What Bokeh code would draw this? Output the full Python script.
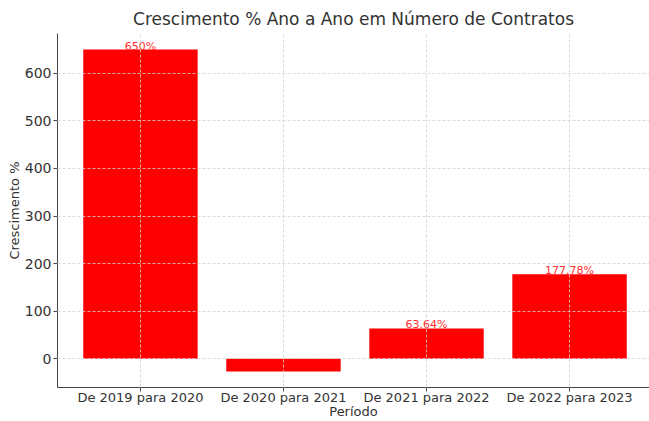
from bokeh.plotting import figure
from bokeh.models import ColumnDataSource, FixedTicker, Range1d
from bokeh.embed import file_html
from bokeh.resources import INLINE

periods = ["De 2019 para 2020", "De 2020 para 2021", "De 2021 para 2022", "De 2022 para 2023"]
growth = [650.0, -26.67, 63.64, 177.78]
label_idx = [0, 2, 3]
label_vals = [650.0, 63.64, 177.78]
label_txt = ["650%", "63.64%", "177.78%"]
y_ticks = [0, 100, 200, 300, 400, 500, 600]

xs = list(range(len(periods)))
src = ColumnDataSource(dict(x=xs, top=growth))

FONT = "DejaVu Sans"
TXT = "#333333"

p = figure(width=649, height=421, output_backend="svg", toolbar_location=None,
           x_range=Range1d(-0.58, 3.559), y_range=Range1d(-60.5, 683.8),
           title="Crescimento % Ano a Ano em Número de Contratos")
p.min_border_left = 57
p.min_border_right = 0
p.min_border_top = 33
p.min_border_bottom = 0
p.outline_line_color = None

p.vbar(x="x", top="top", bottom=0, width=0.8, source=src, fill_color="#ff0000", line_color=None)
lab_src = ColumnDataSource(dict(x=label_idx, y=label_vals, t=label_txt))
p.text(x="x", y="y", text="t", source=lab_src, text_align="center", text_baseline="bottom",
       text_color="#ff3030", text_font_size="11px", text_font={"value": FONT}, y_offset=3)

p.title.text_font = FONT
p.title.text_font_size = "17px"
p.title.text_font_style = "normal"
p.title.text_color = TXT
p.title.align = "center"

for ax in (p.xaxis[0], p.yaxis[0]):
    ax.major_label_text_font = FONT
    ax.major_label_text_font_size = "13px"
    ax.major_label_text_color = TXT
    ax.axis_label_text_font = FONT
    ax.axis_label_text_font_size = "13px"
    ax.axis_label_text_font_style = "normal"
    ax.axis_label_text_color = TXT
    ax.axis_line_color = "#444444"
    ax.major_tick_line_color = "#444444"
    ax.major_tick_out = 4
    ax.major_tick_in = 0
    ax.minor_tick_line_color = None

p.xaxis.major_label_standoff = -2
p.xaxis.axis_label_standoff = -4
p.yaxis.major_label_standoff = 2
p.yaxis.axis_label_standoff = 0
p.yaxis.major_label_text_font_size = "14px"

p.xaxis.ticker = FixedTicker(ticks=xs)
p.xaxis.major_label_overrides = {i: s for i, s in enumerate(periods)}
p.xaxis.axis_label = "Período"
p.yaxis.ticker = FixedTicker(ticks=y_ticks)
p.yaxis.axis_label = "Crescimento %"

for g in (p.xgrid[0], p.ygrid[0]):
    g.grid_line_color = "#d0d0d0"
    g.grid_line_dash = "3 2"
    g.grid_line_width = 0.8
    g.level = "annotation"

with open("out.html", "w") as f:
    f.write(file_html(p, INLINE))
